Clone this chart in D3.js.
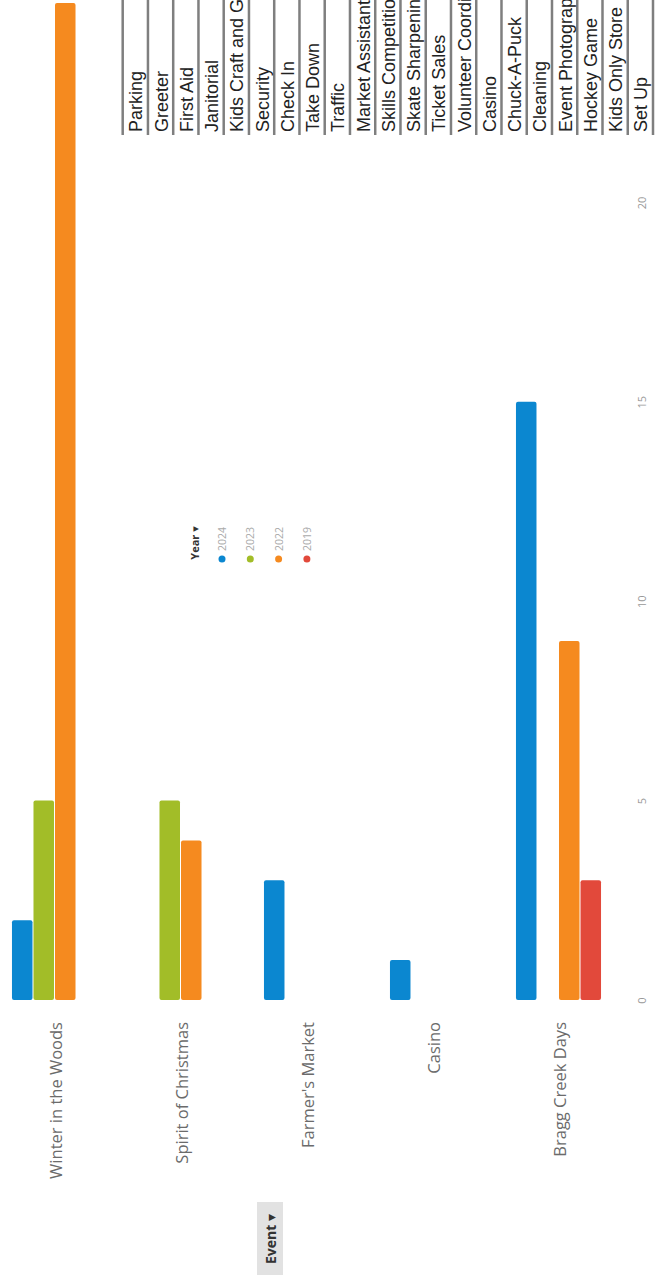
<!DOCTYPE html>
<meta charset="utf-8">
<script src="https://d3js.org/d3.v7.min.js"></script>
<style>
  body { margin: 0; background: #fff; }
  svg { display: block; font-family: "Open Sans", "DejaVu Sans", sans-serif; }
</style>
<div id="chart"></div>
<script>
// chart data
const events = ["Winter in the Woods", "Spirit of Christmas", "Farmer's Market", "Casino", "Bragg Creek Days"];
const years = ["2024", "2023", "2022", "2019"];
const colors = ["#0b87d0", "#a2bd28", "#f58a1f", "#e2493b"];
const counts2024 = [2, 0, 3, 1, 15];
const counts2023 = [5, 5, 0, 0, 0];
const counts2022 = [25, 4, 0, 0, 9];
const counts2019 = [0, 0, 0, 0, 3];
const valueTicks = [0, 5, 10, 15, 20];
const roles = ["Parking", "Greeter", "First Aid", "Janitorial", "Kids Craft and Games", "Security",
  "Check In", "Take Down", "Traffic", "Market Assistant", "Skills Competition", "Skate Sharpening",
  "Ticket Sales", "Volunteer Coordinator", "Casino", "Chuck-A-Puck", "Cleaning", "Event Photography",
  "Hockey Game", "Kids Only Store", "Set Up"];

const series = [counts2024, counts2023, counts2022, counts2019];
const data = [];
events.forEach((e, i) => {
  years.forEach((yr, j) => {
    if (series[j][i] > 0) data.push({ event: e, year: yr, value: series[j][i] });
  });
});

const W = 657, H = 1281;
const svg = d3.select("#chart").append("svg")
  .attr("width", W)
  .attr("height", H);

// the page is turned on its side: events run left to right, values grow upward
const x = d3.scaleBand()
  .domain(events)
  .range([-8, 622])
  .paddingInner(0.317)
  .paddingOuter(0.1585);

const xs = d3.scaleBand()
  .domain(years)
  .range([0, x.bandwidth()]);

const y = d3.scaleLinear()
  .domain([0, 25])
  .range([1000, 3]);

const color = d3.scaleOrdinal().domain(years).range(colors);

// bars
svg.append("g").selectAll("rect")
  .data(data)
  .join("rect")
  .attr("x", d => x(d.event) + xs(d.year))
  .attr("y", d => y(d.value))
  .attr("width", xs.bandwidth() - 1)
  .attr("height", d => y(0) - y(d.value))
  .attr("rx", 2)
  .attr("fill", d => color(d.year));

// value axis on the right, labels turned
const axis = svg.append("g")
  .attr("transform", "translate(641,0)")
  .call(d3.axisLeft(y).tickValues(valueTicks).tickSize(0).tickPadding(0));
axis.select(".domain").remove();
axis.selectAll("text")
  .attr("x", 0)
  .attr("dy", 0)
  .attr("transform", "rotate(-90)")
  .attr("text-anchor", "middle")
  .attr("dominant-baseline", "central")
  .style("font-size", "11px")
  .style("font-family", "'Open Sans', sans-serif")
  .attr("fill", "#999");

// event labels
svg.append("g").selectAll("text")
  .data(events)
  .join("text")
  .attr("transform", d => `translate(${x(d) + x.bandwidth() / 2},1022) rotate(-90)`)
  .attr("text-anchor", "end")
  .attr("dominant-baseline", "central")
  .style("font-size", "16.5px")
  .attr("fill", "#6b6b6b")
  .text(d => d);

// Event button
svg.append("rect")
  .attr("x", 257).attr("y", 1202)
  .attr("width", 26).attr("height", 73)
  .attr("fill", "#e2e2e2");
svg.append("text")
  .attr("transform", "translate(270,1239) rotate(-90)")
  .attr("text-anchor", "middle")
  .attr("dominant-baseline", "central")
  .style("font-size", "14px")
  .style("font-weight", "bold")
  .attr("fill", "#333")
  .text("Event ▾");

// legend
svg.append("text")
  .attr("transform", "translate(194,543) rotate(-90)")
  .attr("text-anchor", "middle")
  .attr("dominant-baseline", "central")
  .style("font-size", "11px")
  .style("font-weight", "bold")
  .attr("fill", "#333")
  .text("Year ▾");

const legend = svg.append("g").selectAll("g")
  .data(years)
  .join("g")
  .attr("transform", (d, i) => `translate(${222 + i * 28.3},0)`);
legend.append("circle")
  .attr("cy", 559)
  .attr("r", 3.5)
  .attr("fill", d => color(d));
legend.append("text")
  .attr("transform", "translate(0,551) rotate(-90)")
  .attr("dominant-baseline", "central")
  .style("font-size", "10.5px")
  .attr("fill", "#aaa")
  .text(d => d);

// roles table at the top right, running off the top edge
const r = d3.scaleBand()
  .domain(roles)
  .range([122.7, 653]);

const table = svg.append("g");
table.selectAll("line")
  .data(roles.concat(["end"]))
  .join("line")
  .attr("x1", (d, i) => r.range()[0] + i * r.step())
  .attr("x2", (d, i) => r.range()[0] + i * r.step())
  .attr("y1", 0)
  .attr("y2", 135)
  .attr("stroke", "#7f7f7f")
  .attr("stroke-width", 2.5);
table.selectAll("text")
  .data(roles)
  .join("text")
  .attr("transform", d => `translate(${r(d) + r.bandwidth() / 2 + 1},132) rotate(-90)`)
  .attr("dominant-baseline", "central")
  .style("font-family", "'Liberation Sans', Arial, sans-serif")
  .style("font-size", "18px")
  .attr("fill", "#222")
  .text(d => d);
</script>
